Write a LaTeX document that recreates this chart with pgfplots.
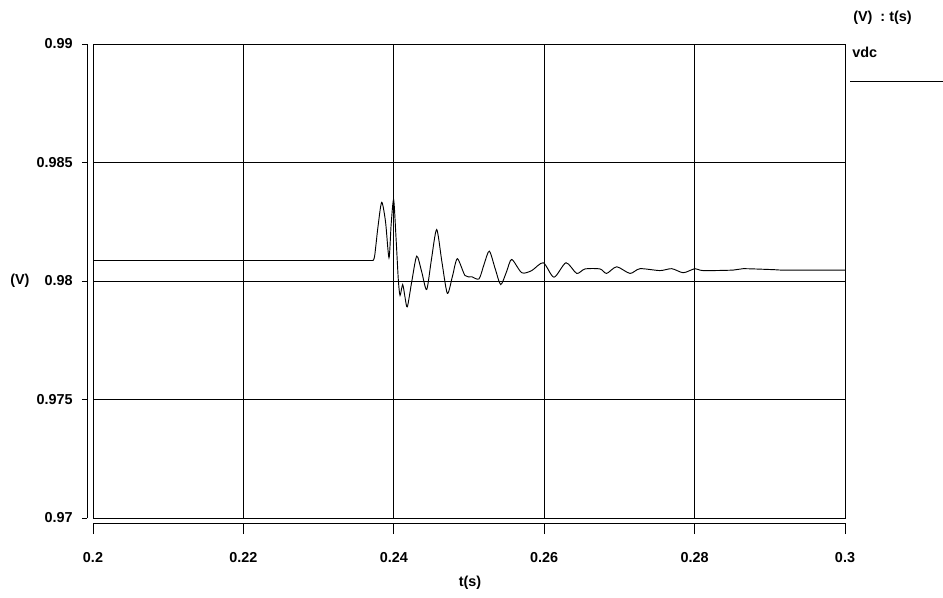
\documentclass[border=0pt]{standalone}
\usepackage{fontspec}
\setmainfont{Liberation Sans}
\usepackage{pgfplots}
\pgfplotsset{compat=1.18}
\begin{document}
\begin{tikzpicture}
\useasboundingbox (0,0) rectangle (707.25pt,-447.75pt);
\pgfplotsset{myfont/.style={font=\fontsize{10.8}{13}\selectfont\bfseries},
 common/.style={anchor=south west, scale only axis, width=564pt, height=355.5pt,
 xmin=0.2,xmax=0.3,ymin=0.97,ymax=0.99, scaled ticks=false,
 xtick={0.2,0.22,0.24,0.26,0.28,0.3}, ytick={0.97,0.975,0.98,0.985,0.99},
 /pgf/number format/assume math mode=true}}
% main box with grid and curve
\begin{axis}[common, at={(69.75pt,-388.5pt)},
 xticklabels={}, yticklabels={}, major tick length=0pt,
 grid=major, major grid style={black, line width=0.7pt},
 axis line style={black, line width=0.7pt}]
\addplot[black, line width=0.7pt] coordinates {
(0.2000,0.98086) (0.2372,0.98086)
};
\addplot[black, line width=0.7pt, smooth, tension=0.45] coordinates {
(0.2372,0.98086) (0.23745,0.98105)
(0.2379,0.98230) (0.23839,0.98332) (0.2389,0.98250) (0.23936,0.98098)
(0.23965,0.98240) (0.23998,0.98343) (0.2403,0.98180) (0.24060,0.98006)
(0.24083,0.97939) (0.24118,0.97985) (0.2415,0.97930) (0.24180,0.97891)
(0.2424,0.98000) (0.24305,0.98105) (0.2437,0.98040) (0.24437,0.97964)
(0.2450,0.98090) (0.24570,0.98217) (0.2464,0.98080) (0.24712,0.97948)
(0.2478,0.98020) (0.24845,0.98094) (0.24947,0.98023) (0.25036,0.98018)
(0.25133,0.98009) (0.2520,0.98070) (0.25270,0.98126) (0.2535,0.98050)
(0.25422,0.97985) (0.2550,0.98040) (0.25568,0.98091) (0.25701,0.98035)
(0.25834,0.98044) (0.25988,0.98077) (0.26130,0.98016) (0.26290,0.98077)
(0.26432,0.98032) (0.26543,0.98051) (0.26742,0.98051) (0.26830,0.98032)
(0.26964,0.98060) (0.27141,0.98032) (0.27274,0.98052) (0.27540,0.98044)
(0.27696,0.98052) (0.27850,0.98035) (0.28005,0.98052) (0.28112,0.98044)
(0.28511,0.98046) (0.28644,0.98052) (0.29043,0.98048) (0.29202,0.98046)
(0.3000,0.98046)
};
\end{axis}
% separate x axis
\begin{axis}[common, at={(69.75pt,-392.25pt)},
 axis x line*=bottom, hide y axis,
 xticklabels={0.2,0.22,0.24,0.26,0.28,0.3},
 tick align=outside, major tick length=8.25pt,
 tick style={black, line width=0.7pt},
 axis line style={black, line width=0.7pt},
 xticklabel style={myfont, yshift=-10.5pt}]
\end{axis}
% separate y axis
\begin{axis}[common, at={(65.25pt,-388.5pt)},
 axis y line*=left, hide x axis,
 yticklabels={0.97,0.975,0.98,0.985,0.99},
 tick align=outside, major tick length=3.75pt,
 tick style={black, line width=0.7pt},
 axis line style={black, line width=0.7pt},
 yticklabel style={myfont, xshift=-3.4pt}]
\end{axis}
\node[anchor=west, inner sep=0pt, font=\fontsize{10.8}{13}\selectfont\bfseries] at (639.75pt,-13.5pt) {(V)\ \ :\ t(s)};
\node[anchor=west, inner sep=0pt, font=\fontsize{10.8}{13}\selectfont\bfseries] at (639pt,-39pt) {vdc};
\draw[black, line width=0.7pt] (637.5pt,-60.75pt) -- (707.25pt,-60.75pt);
\node[anchor=west, inner sep=0pt, font=\fontsize{10.8}{13}\selectfont\bfseries] at (7.5pt,-210.75pt) {(V)};
\node[font=\fontsize{10.8}{13}\selectfont\bfseries] at (352.5pt,-437.25pt) {t(s)};
\end{tikzpicture}
\end{document}
